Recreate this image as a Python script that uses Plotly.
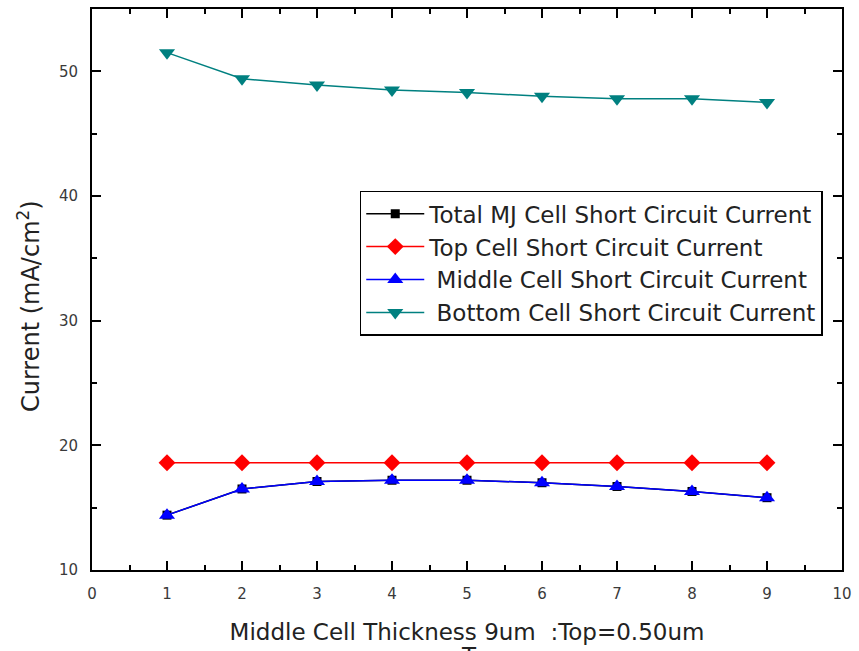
import plotly.graph_objects as go

# Middle cell thickness sweep (um)
thickness = [1, 2, 3, 4, 5, 6, 7, 8, 9]

# Short circuit currents (mA/cm^2)
total_jsc = [14.4, 16.5, 17.1, 17.2, 17.2, 17.0, 16.7, 16.3, 15.8]
top_jsc = [18.6, 18.6, 18.6, 18.6, 18.6, 18.6, 18.6, 18.6, 18.6]
middle_jsc = [14.4, 16.5, 17.1, 17.2, 17.2, 17.0, 16.7, 16.3, 15.8]
bottom_jsc = [51.5, 49.4, 48.9, 48.5, 48.3, 48.0, 47.8, 47.8, 47.5]

x_ticks = [0, 1, 2, 3, 4, 5, 6, 7, 8, 9, 10]
y_ticks = [10, 20, 30, 40, 50]

FONT = "DejaVu Sans, Verdana, sans-serif"

series = [
    ("Total MJ Cell Short Circuit Current", total_jsc, "#000000", "square", 9),
    ("Top Cell Short Circuit Current", top_jsc, "#ff0000", "diamond", 13),
    (" Middle Cell Short Circuit Current", middle_jsc, "#0000ff", "triangle-up", 14),
    (" Bottom Cell Short Circuit Current", bottom_jsc, "#008080", "triangle-down", 14),
]

fig = go.Figure()
for i, (name, vals, color, symbol, size) in enumerate(series):
    fig.add_trace(go.Scatter(
        x=thickness, y=vals, name=name, mode="lines+markers",
        line=dict(color=color, width=1.5),
        marker=dict(symbol=symbol, size=size, color=color),
        legendgroup=f"g{i}",
    ))

axis_common = dict(
    showline=True, linecolor="#000000", linewidth=2,
    mirror="allticks", ticks="inside", ticklen=9, tickwidth=1.5,
    tickcolor="#000000", showgrid=False, zeroline=False,
    ticklabelstandoff=9,
    tickfont=dict(family=FONT, size=15, color="#3a3a3a"),
)

fig.update_xaxes(
    range=[0, 10], tickvals=x_ticks,
    minor=dict(ticks="inside", ticklen=5, tickwidth=1.5, dtick=0.5, tickcolor="#000000"),
    title=dict(text="Middle Cell Thickness 9um  :Top=0.50um",
               font=dict(family=FONT, size=23, color="#222222"), standoff=22),
    **axis_common,
)
fig.update_yaxes(
    range=[10, 55], tickvals=y_ticks,
    minor=dict(ticks="inside", ticklen=5, tickwidth=1.5, dtick=5, tickcolor="#000000"),
    **axis_common,
)

# Vertical axis title, placed a little below the plot's mid-height
fig.add_annotation(text="Current (mA/cm<sup>2</sup>)", textangle=-90,
                   x=-0.083, y=0.47, xref="paper", yref="paper",
                   xanchor="center", yanchor="middle", showarrow=False,
                   font=dict(family=FONT, size=24, color="#222222"))

# Second title line, running off the bottom edge of the page
fig.add_annotation(text="T", x=0.503, y=-0.126, xref="paper", yref="paper",
                   xanchor="center", yanchor="top", showarrow=False,
                   font=dict(family=FONT, size=23, color="#222222"))

fig.update_layout(
    width=859, height=651,
    margin=dict(l=92, r=11, t=7, b=81),
    paper_bgcolor="white", plot_bgcolor="white",
    showlegend=True,
    legend=dict(
        x=0.357, y=0.676, xanchor="left", yanchor="top",
        bordercolor="#000000", borderwidth=1.5, bgcolor="white",
        font=dict(family=FONT, size=23, color="#222222"),
        tracegroupgap=0, itemwidth=58,
    ),
)

fig.write_html("out.html")
